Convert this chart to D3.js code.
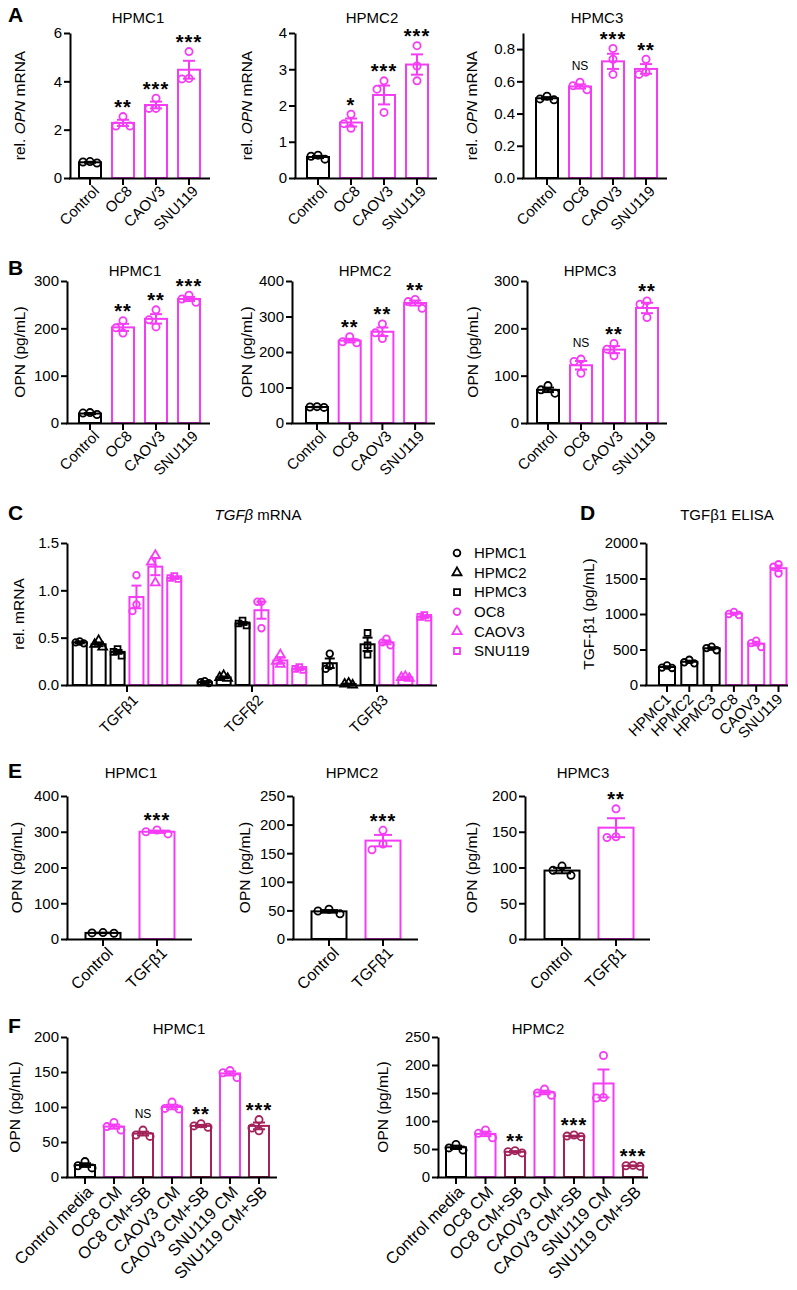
<!DOCTYPE html>
<html><head><meta charset="utf-8">
<script src="https://cdn.jsdelivr.net/npm/d3@7"></script>
<style>body{margin:0;background:#fff} svg{display:block} text{font-family:"Liberation Sans", Arial, sans-serif; fill:#000}</style>
</head><body><svg id="fig" width="797" height="1290"></svg>
<script>
const PINK = "#f53cf5";
const MAROON = "#a3225a";
const BLACK = "#000000";

// ---------- Panel A: rel. OPN mRNA ----------
const catsA = ["Control", "OC8", "CAOV3", "SNU119"];
const aH1Mean = [0.65, 2.28, 3.02, 4.48];
const aH1Sem = [0.02, 0.13, 0.14, 0.37];
const aH1Pts = [[0.68, 0.66, 0.62], [2.54, 2.15, 2.15], [3.3, 2.88, 2.88], [5.23, 4.12, 4.1]];
const aH1Sig = ["", "**", "***", "***"];
const aH1Ticks = [0, 2, 4, 6];

const aH2Mean = [0.58, 1.53, 2.29, 3.13];
const aH2Sem = [0.03, 0.11, 0.26, 0.28];
const aH2Pts = [[0.63, 0.6, 0.52], [1.76, 1.5, 1.37], [2.68, 2.45, 1.81], [3.65, 3.09, 2.68]];
const aH2Sig = ["", "*", "***", "***"];
const aH2Ticks = [0, 1, 2, 3, 4];

const aH3Mean = [0.495, 0.568, 0.724, 0.677];
const aH3Sem = [0.007, 0.013, 0.047, 0.03];
const aH3Pts = [[0.508, 0.491, 0.485], [0.594, 0.573, 0.548], [0.804, 0.737, 0.643], [0.737, 0.657, 0.643]];
const aH3Sig = ["", "NS", "***", "**"];
const aH3Ticks = [0, 0.2, 0.4, 0.6, 0.8];

// ---------- Panel B: OPN (pg/mL) ----------
const bH1Mean = [20, 202, 220, 262];
const bH1Sem = [1.2, 7.5, 10, 4.4];
const bH1Pts = [[22, 21, 18], [216, 201, 190], [239, 218, 203], [270, 262, 255]];
const bH1Sig = ["", "**", "**", "***"];
const bH1Ticks = [0, 100, 200, 300];

const bH2Mean = [45, 232, 257, 338];
const bH2Sem = [0.6, 5, 12, 7];
const bH2Pts = [[46, 45, 44], [243, 229, 226], [279, 254, 238], [348, 342, 323]];
const bH2Sig = ["", "**", "**", "**"];
const bH2Ticks = [0, 100, 200, 300, 400];

const bH3Mean = [70, 122, 155, 243];
const bH3Sem = [4.7, 9, 7.5, 11];
const bH3Pts = [[79, 70, 63], [135, 130, 105], [168, 156, 142], [258, 251, 223]];
const bH3Sig = ["", "NS", "**", "**"];
const bH3Ticks = [0, 100, 200, 300];

// ---------- Panel C: TGFβ mRNA ----------
const groupsC = ["TGFβ1", "TGFβ2", "TGFβ3"];
const seriesC = ["HPMC1", "HPMC2", "HPMC3", "OC8", "CAOV3", "SNU119"];
// means[series][group]
const cMean = [
  [0.45, 0.03, 0.23],
  [0.43, 0.08, 0.01],
  [0.35, 0.65, 0.43],
  [0.93, 0.79, 0.45],
  [1.25, 0.26, 0.08],
  [1.13, 0.17, 0.72]
];
const cSem = [
  [0.01, 0.01, 0.05],
  [0.02, 0.01, 0.005],
  [0.02, 0.015, 0.07],
  [0.12, 0.09, 0.02],
  [0.09, 0.03, 0.01],
  [0.01, 0.01, 0.01]
];
const cPts = [
  [[0.46, 0.45, 0.44], [0.04, 0.03, 0.02], [0.33, 0.2, 0.17]],
  [[0.47, 0.43, 0.4], [0.1, 0.08, 0.07], [0.02, 0.01, 0.0]],
  [[0.38, 0.35, 0.31], [0.68, 0.65, 0.63], [0.55, 0.42, 0.32]],
  [[1.16, 0.85, 0.78], [0.88, 0.88, 0.6], [0.49, 0.45, 0.42]],
  [[1.37, 1.3, 1.08], [0.32, 0.25, 0.22], [0.09, 0.08, 0.07]],
  [[1.15, 1.13, 1.12], [0.19, 0.17, 0.16], [0.74, 0.72, 0.71]]
];
const cTicks = [0, 0.5, 1.0, 1.5];

// ---------- Panel D: TGFβ1 ELISA ----------
const catsD = ["HPMC1", "HPMC2", "HPMC3", "OC8", "CAOV3", "SNU119"];
const dMean = [253, 327, 517, 1005, 583, 1645];
const dSem = [11, 15, 14, 13, 26, 38];
const dPts = [[275, 245, 240], [355, 320, 305], [540, 520, 490], [1030, 1000, 985], [625, 590, 535], [1700, 1665, 1570]];
const dTicks = [0, 500, 1000, 1500, 2000];

// ---------- Panel E: OPN after TGFβ1 ----------
const catsE = ["Control", "TGFβ1"];
const eH1Mean = [17, 300];
const eH1Sem = [0.6, 3.2];
const eH1Pts = [[18, 17, 16], [305, 300, 294]];
const eH1Sig = ["", "***"];
const eH1Ticks = [0, 100, 200, 300, 400];

const eH2Mean = [48.3, 172];
const eH2Sem = [2.3, 10];
const eH2Pts = [[52, 49, 44], [190, 166, 156]];
const eH2Sig = ["", "***"];
const eH2Ticks = [0, 50, 100, 150, 200, 250];

const eH3Mean = [95.7, 155.7];
const eH3Sem = [3.8, 13.2];
const eH3Pts = [[102, 96, 89], [182, 143, 142]];
const eH3Sig = ["", "**"];
const eH3Ticks = [0, 50, 100, 150, 200];

// ---------- Panel F: conditioned media ± SB ----------
const catsF = ["Control media", "OC8 CM", "OC8 CM+SB", "CAOV3 CM", "CAOV3 CM+SB", "SNU119 CM", "SNU119 CM+SB"];
const fH1Mean = [17, 72, 62, 100, 73, 148, 73];
const fH1Sem = [2.6, 3, 2.7, 3.3, 1.5, 2.9, 4.8];
const fH1Pts = [[22, 16, 13], [78, 72, 67], [67, 60, 58], [107, 98, 97], [76, 73, 71], [152, 149, 142], [82, 70, 66]];
const fH1Sig = ["", "", "NS", "", "**", "", "***"];
const fH1Ticks = [0, 50, 100, 150, 200];

const fH2Mean = [53, 77, 45, 151, 73, 167, 20];
const fH2Sem = [3, 4, 1.2, 3.2, 0.9, 25, 0.6];
const fH2Pts = [[58, 52, 48], [84, 78, 70], [47, 45, 43], [157, 150, 146], [75, 73, 72], [217, 142, 141], [21, 20, 19]];
const fH2Sig = ["", "", "**", "", "***", "", "***"];
const fH2Ticks = [0, 50, 100, 150, 200, 250];

// ================= drawing =================
const svg = d3.select("#fig");
svg.append("rect").attr("width", 797).attr("height", 1290).attr("fill", "#fff");
const FONT = '"Liberation Sans", Arial, sans-serif';

function rich(sel, parts) {
  parts.forEach(p => {
    const t = sel.append("tspan").text(p[0]);
    if (p[1]) t.attr("font-style", "italic");
  });
}

// simple beeswarm: a point clashes with a placed one when both |dx| < stepX and |dy| < minDy
function swarm(vals, yPix, stepX, minDy) {
  const placed = [];
  const offs = [0, -stepX, stepX, -2 * stepX, 2 * stepX];
  vals.forEach(v => {
    const py = yPix(v);
    for (const o of offs) {
      if (placed.every(p => Math.abs(p.dx - o) >= stepX - 0.01 || Math.abs(p.py - py) >= minDy)) { placed.push({ v, py, dx: o }); break; }
    }
  });
  return placed;
}

function styleAxis(ax) {
  ax.select(".domain").attr("stroke", "#000").attr("stroke-width", 2);
  ax.selectAll(".tick line").attr("stroke", "#000").attr("stroke-width", 2);
  ax.selectAll(".tick text").attr("font-size", 15).attr("fill", "#000").attr("font-family", FONT);
}

function yAxis(g, y, x0, ticks, fmt) {
  const ax = g.append("g").attr("transform", `translate(${x0},0)`)
    .call(d3.axisLeft(y).tickValues(ticks).tickSize(6).tickSizeOuter(0).tickPadding(2).tickFormat(fmt));
  styleAxis(ax);
  return ax;
}

function yLabel(g, x, yMid, parts) {
  const t = g.append("text").attr("transform", `translate(${x},${yMid}) rotate(-90)`)
    .attr("text-anchor", "middle").attr("font-size", 15.5).attr("dy", "0.35em");
  rich(t, parts);
}

function title(g, x, y, parts, size) {
  const t = g.append("text").attr("x", x).attr("y", y).attr("text-anchor", "middle").attr("font-size", size || 15);
  rich(t, parts);
}

function panelLetter(x, y, L) {
  svg.append("text").attr("x", x).attr("y", y).attr("font-size", 21).attr("font-weight", "bold").text(L);
}

function xLabels(g, x, cats, y0, dx, dy, size) {
  cats.forEach(c => {
    g.append("text").attr("transform", `translate(${x(c) + dx},${y0 + dy}) rotate(-45)`)
      .attr("text-anchor", "end").attr("font-size", size || 15).text(c);
  });
}

function barChart(o) {
  const g = svg.append("g");
  const y = d3.scaleLinear().domain([0, o.yMax]).range([o.y0, o.yTop]);
  const n = o.cats.length;
  const x = d3.scalePoint().domain(o.cats)
    .range([o.c0 - o.step / 2, o.c0 - o.step / 2 + n * o.step]).padding(0.5);
  const r = o.r || 3.6;
  o.cats.forEach((c, i) => {
    const col = o.colors[i];
    const cx = x(c);
    const yt = y(o.means[i]);
    g.append("rect").attr("x", cx - o.barW / 2).attr("y", yt).attr("width", o.barW)
      .attr("height", o.y0 - yt).attr("fill", "#fff").attr("stroke", col).attr("stroke-width", 2);
    // error bar
    const e1 = y(o.means[i] + o.sems[i]), e0 = y(Math.max(0, o.means[i] - o.sems[i]));
    g.append("line").attr("x1", cx).attr("x2", cx).attr("y1", e0).attr("y2", e1).attr("stroke", col).attr("stroke-width", 2);
    [e0, e1].forEach(ey => g.append("line").attr("x1", cx - o.capW / 2).attr("x2", cx + o.capW / 2)
      .attr("y1", ey).attr("y2", ey).attr("stroke", col).attr("stroke-width", 2));
    // points
    const pl = swarm(o.pts[i], y, o.jit || 7, o.minDy || 10);
    pl.forEach(p => g.append("circle").attr("cx", cx + p.dx).attr("cy", p.py).attr("r", r)
      .attr("fill", "none").attr("stroke", col).attr("stroke-width", 1.8));
    // significance
    const s = o.sig ? o.sig[i] : "";
    if (s) {
      const topY = Math.min(e1, ...pl.map(p => p.py - r));
      if (s === "NS") {
        g.append("text").attr("x", cx).attr("y", topY - 9).attr("text-anchor", "middle")
          .attr("font-size", 12).text("NS");
      } else {
        g.append("text").attr("x", cx).attr("y", topY + 1).attr("text-anchor", "middle")
          .attr("font-size", 20).attr("font-weight", "bold").attr("letter-spacing", 1).text(s);
      }
    }
  });
  // axes
  yAxis(g, y, o.x0, o.ticks, o.fmt || d3.format("d"));
  g.append("line").attr("x1", o.x0 - 1).attr("x2", o.xEnd).attr("y1", o.y0 + 0.5).attr("y2", o.y0 + 0.5)
    .attr("stroke", "#000").attr("stroke-width", 2);
  o.cats.forEach(c => g.append("line").attr("x1", x(c)).attr("x2", x(c)).attr("y1", o.y0).attr("y2", o.y0 + 7)
    .attr("stroke", "#000").attr("stroke-width", 2));
  xLabels(g, x, o.cats, o.y0, o.ldx == null ? 10 : o.ldx, o.ldy == null ? 14 : o.ldy, o.lsize);
  if (o.title) title(g, o.titleX, o.titleY, o.title);
  if (o.ylabel) yLabel(g, o.ylx, (o.y0 + o.yTop) / 2, o.ylabel);
  return g;
}

const colA = [BLACK, PINK, PINK, PINK];
const opnLab = [["rel. ", false], ["OPN", true], [" mRNA", false]];
const pgLab = [["OPN (pg/mL)", false]];

// Panel A
panelLetter(8, 22, "A");
barChart({ cats: catsA, means: aH1Mean, sems: aH1Sem, pts: aH1Pts, sig: aH1Sig, colors: colA,
  yMax: 6, ticks: aH1Ticks, y0: 178, yTop: 33, x0: 70, xEnd: 210, c0: 90, step: 33, barW: 22, capW: 12,
  title: [["HPMC1", false]], titleX: 138, titleY: 23, ylabel: opnLab, ylx: 20 });
barChart({ cats: catsA, means: aH2Mean, sems: aH2Sem, pts: aH2Pts, sig: aH2Sig, colors: colA,
  yMax: 4, ticks: aH2Ticks, y0: 178, yTop: 33, x0: 295, xEnd: 437, c0: 318, step: 33, barW: 22, capW: 12,
  title: [["HPMC2", false]], titleX: 372, titleY: 23, ylabel: opnLab, ylx: 247 });
barChart({ cats: catsA, means: aH3Mean, sems: aH3Sem, pts: aH3Pts, sig: aH3Sig, colors: colA,
  yMax: 0.9, ticks: aH3Ticks, fmt: d3.format(".1f"), y0: 178, yTop: 33, x0: 523, xEnd: 667, c0: 547, step: 33, barW: 22, capW: 12,
  title: [["HPMC3", false]], titleX: 597, titleY: 23, ylabel: opnLab, ylx: 472 });

// Panel B
panelLetter(8, 275, "B");
barChart({ cats: catsA, means: bH1Mean, sems: bH1Sem, pts: bH1Pts, sig: bH1Sig, colors: colA,
  yMax: 300, ticks: bH1Ticks, y0: 423, yTop: 281, x0: 67, xEnd: 210, c0: 90, step: 33, barW: 22, capW: 12,
  title: [["HPMC1", false]], titleX: 135, titleY: 276, ylabel: pgLab, ylx: 20 });
barChart({ cats: catsA, means: bH2Mean, sems: bH2Sem, pts: bH2Pts, sig: bH2Sig, colors: colA,
  yMax: 400, ticks: bH2Ticks, y0: 423, yTop: 281, x0: 292, xEnd: 435, c0: 317, step: 32.7, barW: 22, capW: 12,
  title: [["HPMC2", false]], titleX: 365, titleY: 276, ylabel: pgLab, ylx: 247 });
barChart({ cats: catsA, means: bH3Mean, sems: bH3Sem, pts: bH3Pts, sig: bH3Sig, colors: colA,
  yMax: 300, ticks: bH3Ticks, y0: 423, yTop: 281, x0: 527, xEnd: 667, c0: 548, step: 33, barW: 22, capW: 12,
  title: [["HPMC3", false]], titleX: 590, titleY: 276, ylabel: pgLab, ylx: 473 });

// Panel C (grouped)
panelLetter(8, 520, "C");
(function () {
  const g = svg.append("g");
  const y0 = 685, yTop = 543, x0 = 67, xEnd = 437;
  const y = d3.scaleLinear().domain([0, 1.5]).range([y0, yTop]);
  const xg = d3.scalePoint().domain(groupsC).range([64.5, 64.5 + 3 * 125]).padding(0.5);
  const xs = d3.scalePoint().domain(seriesC).range([-56.7, 56.7]).padding(0.5);
  const shapes = [d3.symbolCircle, d3.symbolTriangle, d3.symbolSquare, d3.symbolCircle, d3.symbolTriangle, d3.symbolSquare];
  const cols = [BLACK, BLACK, BLACK, PINK, PINK, PINK];
  const barW = 14;
  seriesC.forEach((s, si) => {
    groupsC.forEach((gr, gi) => {
      const cx = xg(gr) + xs(s);
      const m = cMean[si][gi], se = cSem[si][gi];
      const yt = y(m);
      g.append("rect").attr("x", cx - barW / 2).attr("y", yt).attr("width", barW).attr("height", y0 - yt)
        .attr("fill", "#fff").attr("stroke", cols[si]).attr("stroke-width", 2);
      const e1 = y(m + se), e0 = y(Math.max(0, m - se));
      g.append("line").attr("x1", cx).attr("x2", cx).attr("y1", e0).attr("y2", e1).attr("stroke", cols[si]).attr("stroke-width", 2);
      [e0, e1].forEach(ey => g.append("line").attr("x1", cx - 5).attr("x2", cx + 5).attr("y1", ey).attr("y2", ey)
        .attr("stroke", cols[si]).attr("stroke-width", 2));
      swarm(cPts[si][gi], y, 4, 7).forEach(p => {
        g.append("path").attr("d", d3.symbol().type(shapes[si]).size(34)())
          .attr("transform", `translate(${cx + p.dx},${p.py})`)
          .attr("fill", "none").attr("stroke", cols[si]).attr("stroke-width", 1.8);
      });
    });
  });
  yAxis(g, y, x0, cTicks, d3.format(".1f"));
  g.append("line").attr("x1", x0 - 1).attr("x2", xEnd).attr("y1", y0 + 0.5).attr("y2", y0 + 0.5).attr("stroke", "#000").attr("stroke-width", 2);
  groupsC.forEach(gr => g.append("line").attr("x1", xg(gr)).attr("x2", xg(gr)).attr("y1", y0).attr("y2", y0 + 7).attr("stroke", "#000").attr("stroke-width", 2));
  xLabels(g, xg, groupsC, y0, 12, 16);
  title(g, 258, 520, [["TGFβ", true], [" mRNA", false]]);
  yLabel(g, 19, (y0 + yTop) / 2, [["rel. mRNA", false]]);
  // legend
  const lg = svg.append("g");
  seriesC.forEach((s, i) => {
    const ly = 553 + i * 19.6;
    lg.append("path").attr("d", d3.symbol().type(shapes[i]).size(36)())
      .attr("transform", `translate(457,${ly})`).attr("fill", "none").attr("stroke", cols[i]).attr("stroke-width", 1.8);
    lg.append("text").attr("x", 474).attr("y", ly).attr("dy", "0.35em").attr("font-size", 15).text(s);
  });
})();

// Panel D
panelLetter(580, 520, "D");
barChart({ cats: catsD, means: dMean, sems: dSem, pts: dPts, colors: [BLACK, BLACK, BLACK, PINK, PINK, PINK],
  yMax: 2000, ticks: dTicks, y0: 685, yTop: 543, x0: 646, xEnd: 788, c0: 667, step: 22.3, barW: 16, capW: 8, r: 3.3, jit: 5, minDy: 8,
  ldx: 5, ldy: 15,
  title: [["TGFβ1 ELISA", false]], titleX: 727, titleY: 520, ylabel: [["TGF-β1 (pg/mL)", false]], ylx: 589 });

// Panel E
panelLetter(8, 778, "E");
const colE = [BLACK, PINK];
barChart({ cats: catsE, means: eH1Mean, sems: eH1Sem, pts: eH1Pts, sig: eH1Sig, colors: colE,
  yMax: 400, ticks: eH1Ticks, y0: 939, yTop: 796, x0: 67, xEnd: 192, c0: 103, step: 54, barW: 35, capW: 18, jit: 11,
  ldx: 11, ldy: 15, lsize: 16,
  title: [["HPMC1", false]], titleX: 131, titleY: 778, ylabel: pgLab, ylx: 17 });
barChart({ cats: catsE, means: eH2Mean, sems: eH2Sem, pts: eH2Pts, sig: eH2Sig, colors: colE,
  yMax: 250, ticks: eH2Ticks, y0: 939, yTop: 796, x0: 293, xEnd: 418, c0: 329, step: 54, barW: 35, capW: 18, jit: 11,
  ldx: 11, ldy: 15, lsize: 16,
  title: [["HPMC2", false]], titleX: 352, titleY: 778, ylabel: pgLab, ylx: 245 });
barChart({ cats: catsE, means: eH3Mean, sems: eH3Sem, pts: eH3Pts, sig: eH3Sig, colors: colE,
  yMax: 200, ticks: eH3Ticks, y0: 939, yTop: 796, x0: 525, xEnd: 650, c0: 562, step: 54, barW: 35, capW: 18, jit: 9,
  ldx: 11, ldy: 15, lsize: 16,
  title: [["HPMC3", false]], titleX: 583, titleY: 778, ylabel: pgLab, ylx: 472 });

// Panel F
panelLetter(8, 1033, "F");
const colF = [BLACK, PINK, MAROON, PINK, MAROON, PINK, MAROON];
barChart({ cats: catsF, means: fH1Mean, sems: fH1Sem, pts: fH1Pts, sig: fH1Sig, colors: colF,
  yMax: 200, ticks: fH1Ticks, y0: 1177, yTop: 1037, x0: 67, xEnd: 277, c0: 85, step: 29, barW: 20, capW: 12,
  ldx: 9, ldy: 16, lsize: 16.5,
  title: [["HPMC1", false]], titleX: 179, titleY: 1034, ylabel: pgLab, ylx: 15 });
barChart({ cats: catsF, means: fH2Mean, sems: fH2Sem, pts: fH2Pts, sig: fH2Sig, colors: colF,
  yMax: 250, ticks: fH2Ticks, y0: 1177, yTop: 1037, x0: 438, xEnd: 648, c0: 456, step: 29.5, barW: 20, capW: 12,
  ldx: 9, ldy: 16, lsize: 16.5,
  title: [["HPMC2", false]], titleX: 538, titleY: 1034, ylabel: pgLab, ylx: 383 });
</script>
</body></html>
